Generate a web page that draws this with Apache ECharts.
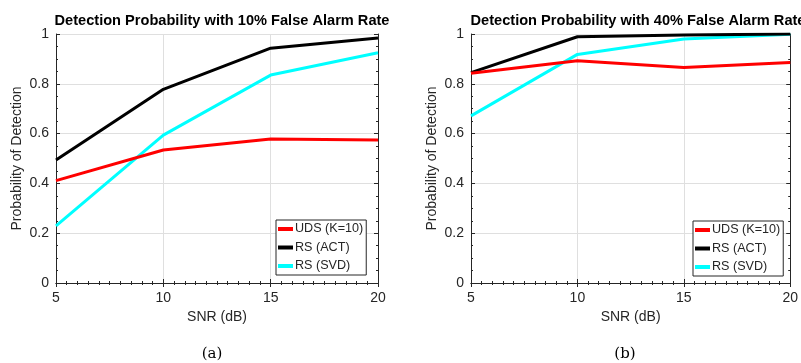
<!DOCTYPE html>
<html>
<head>
<meta charset="utf-8">
<script src="https://cdn.jsdelivr.net/npm/echarts@6/dist/echarts.min.js"></script>
<style>
html,body{margin:0;padding:0;background:#fff;}
#c{width:801px;height:363px;}
</style>
</head>
<body>
<div id="c"></div>
<script>
// ---- data ----
const snr = [5, 10, 15, 20];
const seriesNames = ['UDS (K=10)', 'RS (ACT)', 'RS (SVD)'];
const seriesColors = ['#ff0000', '#000000', '#00ffff'];
// (a) 10% false alarm rate
const udsA = [0.411, 0.534, 0.578, 0.574];
const actA = [0.494, 0.778, 0.943, 0.984];
const svdA = [0.229, 0.594, 0.835, 0.925];
// (b) 40% false alarm rate
const udsB = [0.842, 0.893, 0.865, 0.886];
const actB = [0.845, 0.989, 0.996, 1.0];
const svdB = [0.671, 0.918, 0.980, 0.999];
const titles = ['Detection Probability with 10% False Alarm Rate', 'Detection Probability with 40% False Alarm Rate'];
const captions = ['(a)', '(b)'];
const xLabel = 'SNR (dB)';
const yLabel = 'Probability of Detection';

const font = 'Liberation Sans, Arial, sans-serif';
const axisColor = '#262626';
const grids = [
  {left: 56, top: 34, width: 322, height: 249},
  {left: 471, top: 34, width: 322, height: 249}
];

const xAxes = [], yAxes = [];
grids.forEach((g, i) => {
  xAxes.push({
    type: 'value', gridIndex: i, min: 5, max: 20, interval: 5, position: 'bottom',
    name: xLabel, nameLocation: 'middle', nameGap: 23,
    nameTextStyle: {fontFamily: font, fontSize: 14, color: axisColor},
    axisLine: {lineStyle: {color: axisColor, width: 1}},
    axisTick: {inside: true, length: 4, lineStyle: {color: axisColor}},
    minorTick: {show: true, splitNumber: 10, length: 2, lineStyle: {color: axisColor}},
    axisLabel: {fontFamily: font, fontSize: 14, color: axisColor, margin: 8},
    splitLine: {show: true, lineStyle: {color: '#dfdfdf', width: 1}}
  });
  xAxes.push({
    type: 'value', gridIndex: i, min: 5, max: 20, interval: 5, position: 'top',
    axisLine: {lineStyle: {color: axisColor, width: 1}},
    axisTick: {inside: true, length: 4, lineStyle: {color: axisColor}},
    minorTick: {show: true, splitNumber: 10, length: 2, lineStyle: {color: axisColor}},
    axisLabel: {show: false}, splitLine: {show: false}
  });
  yAxes.push({
    type: 'value', gridIndex: i, min: 0, max: 1, interval: 0.2, position: 'left',
    name: yLabel, nameLocation: 'middle', nameGap: 32, nameRotate: 90,
    nameTextStyle: {fontFamily: font, fontSize: 14, color: axisColor},
    axisLine: {lineStyle: {color: axisColor, width: 1}},
    axisTick: {inside: true, length: 4, lineStyle: {color: axisColor}},
    minorTick: {show: true, splitNumber: 4, length: 2, lineStyle: {color: axisColor}},
    axisLabel: {fontFamily: font, fontSize: 14, color: axisColor, margin: 7},
    splitLine: {show: true, lineStyle: {color: '#dfdfdf', width: 1}}
  });
  yAxes.push({
    type: 'value', gridIndex: i, min: 0, max: 1, interval: 0.2, position: 'right',
    axisLine: {show: true, lineStyle: {color: axisColor, width: 1}},
    axisTick: {show: true, inside: true, length: 4, lineStyle: {color: axisColor}},
    minorTick: {show: true, splitNumber: 4, length: 2, lineStyle: {color: axisColor}},
    axisLabel: {show: false}, splitLine: {show: false}
  });
});

const dataSets = [[udsA, actA, svdA], [udsB, actB, svdB]];
const series = [];
dataSets.forEach((set, gi) => {
  set.forEach((vals, si) => {
    series.push({
      type: 'line', name: seriesNames[si], xAxisIndex: gi * 2, yAxisIndex: gi * 2,
      data: snr.map((x, k) => [x, vals[k]]),
      showSymbol: false, symbol: 'none', animation: false,
      lineStyle: {color: seriesColors[si], width: 3},
      itemStyle: {color: seriesColors[si]},
      z: 3 - si + 2
    });
  });
});

const legendBase = {
  orient: 'vertical', data: seriesNames, icon: 'rect', itemWidth: 15, itemHeight: 4,
  itemGap: 4.5, padding: [2, 3, 2, 2], borderColor: axisColor, borderWidth: 1,
  backgroundColor: '#fff', selectedMode: false,
  textStyle: {fontFamily: font, fontSize: 12.6, color: axisColor, lineHeight: 14, padding: [0, 0, 0, -3]}
};

const chart = echarts.init(document.getElementById('c'), null, {renderer: 'canvas'});
chart.setOption({
  backgroundColor: '#fff',
  animation: false,
  title: [
    {text: titles[0], left: 217, top: 8, textAlign: 'center', textStyle: {fontFamily: font, fontSize: 14.6, fontWeight: 'bold', color: '#000'}},
    {text: titles[1], left: 633, top: 8, textAlign: 'center', textStyle: {fontFamily: font, fontSize: 14.6, fontWeight: 'bold', color: '#000'}},
    {text: captions[0], left: 207, top: 342, textAlign: 'center', textStyle: {fontFamily: 'DejaVu Serif, Liberation Serif, serif', fontSize: 15, fontWeight: 'normal', color: '#000'}},
    {text: captions[1], left: 620, top: 342, textAlign: 'center', textStyle: {fontFamily: 'DejaVu Serif, Liberation Serif, serif', fontSize: 15, fontWeight: 'normal', color: '#000'}}
  ],
  grid: grids.map(g => Object.assign({containLabel: false, show: false}, g)),
  xAxis: xAxes,
  yAxis: yAxes,
  legend: [
    Object.assign({}, legendBase, {left: 276, top: 220}),
    Object.assign({}, legendBase, {left: 693, top: 221})
  ],
  series: series
});
</script>
</body>
</html>
